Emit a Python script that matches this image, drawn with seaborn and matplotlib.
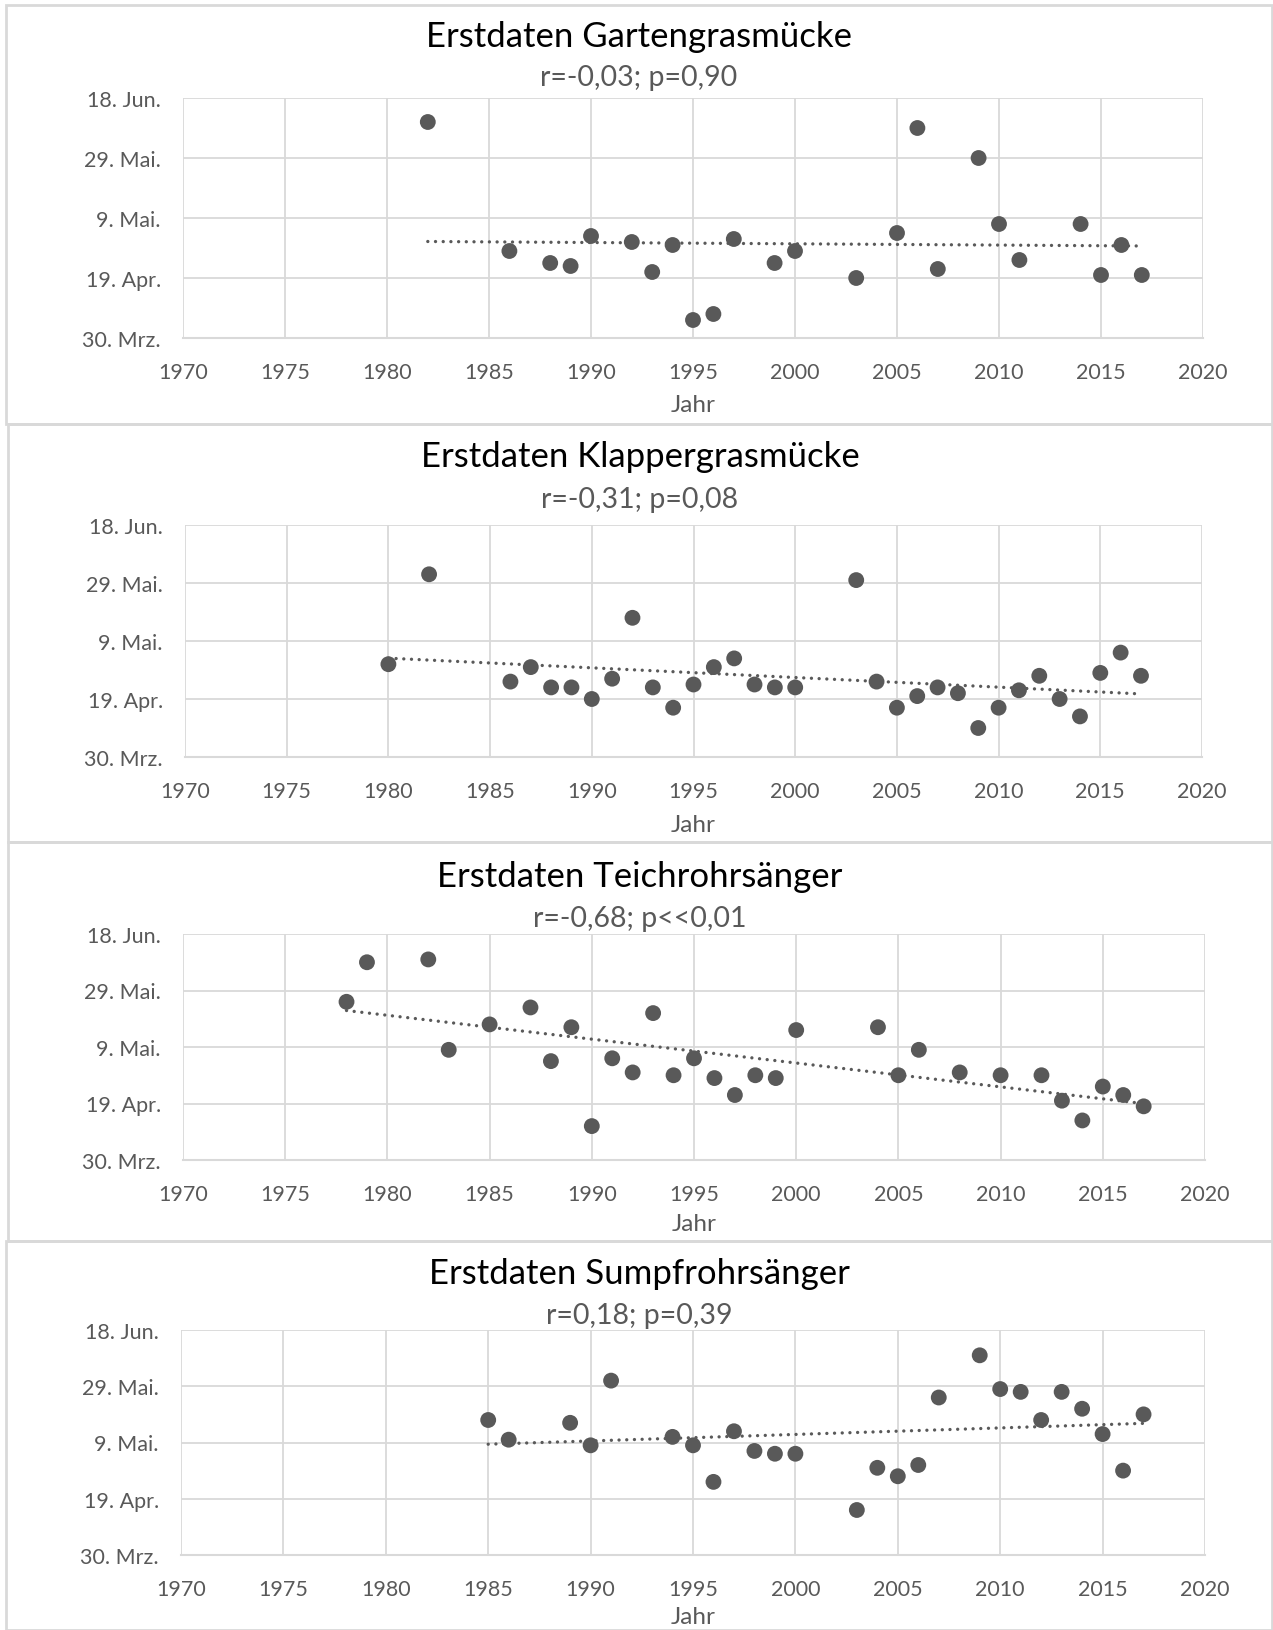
import numpy as np
import pandas as pd
import matplotlib
matplotlib.use("Agg")
import matplotlib.pyplot as plt
from matplotlib.patches import Rectangle
import seaborn as sns

sns.set_theme(style="white")
plt.rcParams['font.family'] = ['Lato', 'DejaVu Sans']

# ---- data: year and day-of-year of first sighting ----
years_garten = [1982, 1986, 1988, 1989, 1990, 1992, 1993, 1994, 1995, 1996, 1997, 1999, 2000,
                2003, 2005, 2006, 2007, 2009, 2010, 2011, 2014, 2015, 2016, 2017]
days_garten = [161, 118, 114, 113, 123, 121, 111, 120, 95, 97, 122, 114, 118,
               109, 124, 159, 112, 149, 127, 115, 127, 110, 120, 110]

years_klapper = [1980, 1982, 1986, 1987, 1988, 1989, 1990, 1991, 1992, 1993, 1994, 1995, 1996,
                 1997, 1998, 1999, 2000, 2003, 2004, 2005, 2006, 2007, 2008, 2009, 2010, 2011,
                 2012, 2013, 2014, 2015, 2016, 2017]
days_klapper = [121, 152, 115, 120, 113, 113, 109, 116, 137, 113, 106, 114, 120,
                123, 114, 113, 113, 150, 115, 106, 110, 113, 111, 99, 106, 112,
                117, 109, 103, 118, 125, 117]

years_teich = [1978, 1979, 1982, 1983, 1985, 1987, 1988, 1989, 1990, 1991, 1992, 1993, 1994,
               1995, 1996, 1997, 1998, 1999, 2000, 2004, 2005, 2006, 2008, 2010, 2012, 2013,
               2014, 2015, 2016, 2017]
days_teich = [145, 159, 160, 128, 137, 143, 124, 136, 101, 125, 120, 141, 119,
              125, 118, 112, 119, 118, 135, 136, 119, 128, 120, 119, 119, 110,
              103, 115, 112, 108]

years_sumpf = [1985, 1986, 1989, 1990, 1991, 1994, 1995, 1996, 1997, 1998, 1999, 2000, 2003,
               2004, 2005, 2006, 2007, 2009, 2010, 2011, 2012, 2013, 2014, 2015, 2016, 2017]
days_sumpf = [137, 130, 136, 128, 151, 131, 128, 115, 133, 126, 125, 125, 105,
              120, 117, 121, 145, 160, 148, 147, 137, 147, 141, 132, 119, 139]

titles = ["Erstdaten Gartengrasmücke", "Erstdaten Klappergrasmücke",
          "Erstdaten Teichrohrsänger", "Erstdaten Sumpfrohrsänger"]
subtitles = ["r=-0,03; p=0,90", "r=-0,31; p=0,08", "r=-0,68; p<<0,01", "r=0,18; p=0,39"]

ytick_days = [89, 109, 129, 149, 169]
ytick_labels = ["30. Mrz.", "19. Apr.", "9. Mai.", "29. Mai.", "18. Jun."]
xtick_years = [1970, 1975, 1980, 1985, 1990, 1995, 2000, 2005, 2010, 2015, 2020]
x_label = "Jahr"

series = [(years_garten, days_garten), (years_klapper, days_klapper),
          (years_teich, days_teich), (years_sumpf, days_sumpf)]

# ---- layout (pixels) ----
W, H = 1273, 1631
fig = plt.figure(figsize=(W / 100, H / 100), dpi=100)

# frame boxes (left, top, right, bottom)
frames = [(6, 6, 1272, 425), (8, 425, 1272, 843), (8, 843, 1272, 1242), (6, 1242, 1272, 1631)]
# axes boxes (left, top, right, bottom)
axes_px = [(183, 99, 1203, 339), (185, 526, 1202, 758), (183, 935, 1205, 1161), (181, 1331, 1205, 1556)]
title_y = [37, 457, 877, 1274]
sub_y = [78, 500, 919, 1316]
jahr_y = [406, 825, 1225, 1618]

GRAY = "#595959"
GRID = "#d9d9d9"

for (fl, ft, fr, fb) in frames:
    fig.patches.append(Rectangle((fl / W, 1 - fb / H), (fr - fl) / W, (fb - ft) / H,
                                 transform=fig.transFigure, fill=False,
                                 edgecolor=GRID, linewidth=2.0, zorder=0))

for i, ((yrs, dys), (l, t, r, b)) in enumerate(zip(series, axes_px)):
    ax = fig.add_axes([l / W, 1 - b / H, (r - l) / W, (b - t) / H])
    df = pd.DataFrame({"Jahr": yrs, "Tag": dys})
    sns.regplot(data=df, x="Jahr", y="Tag", ax=ax, scatter=False, ci=None, truncate=True,
                line_kws=dict(color=GRAY, linewidth=2.4, linestyle=(0, (0.01, 2.3)),
                              dash_capstyle="round", zorder=3))
    sns.scatterplot(data=df, x="Jahr", y="Tag", ax=ax, color=GRAY, s=130,
                    edgecolor="none", linewidth=0, zorder=4)
    ax.set_xlim(1970, 2020)
    ax.set_ylim(89, 169)
    ax.set_xticks(xtick_years)
    ax.set_xticklabels([str(v) for v in xtick_years])
    ax.set_yticks(ytick_days)
    ax.set_yticklabels(ytick_labels)
    ax.grid(True, color=GRID, linewidth=1.3)
    ax.set_axisbelow(True)
    for s in ["top", "left", "right"]:
        ax.spines[s].set_visible(False)
    ax.spines["bottom"].set_color(GRID)
    ax.spines["bottom"].set_linewidth(1.5)
    ax.tick_params(axis="both", length=0, labelsize=15.5, labelcolor=GRAY)
    ax.tick_params(axis="x", pad=17)
    ax.tick_params(axis="y", pad=16)
    ax.set_xlabel("")
    ax.set_ylabel("")
    cx = (l + r) / 2 / W
    fig.text(0.5 * (frames[i][0] + frames[i][2]) / W, 1 - title_y[i] / H, titles[i],
             ha="center", va="center", fontsize=25, color="black")
    fig.text(0.5 * (frames[i][0] + frames[i][2]) / W, 1 - sub_y[i] / H, subtitles[i],
             ha="center", va="center", fontsize=20.5, color=GRAY)
    fig.text(cx, 1 - jahr_y[i] / H, x_label, ha="center", va="center", fontsize=17.5, color=GRAY)

fig.savefig("out.png", dpi=100, facecolor="white")
